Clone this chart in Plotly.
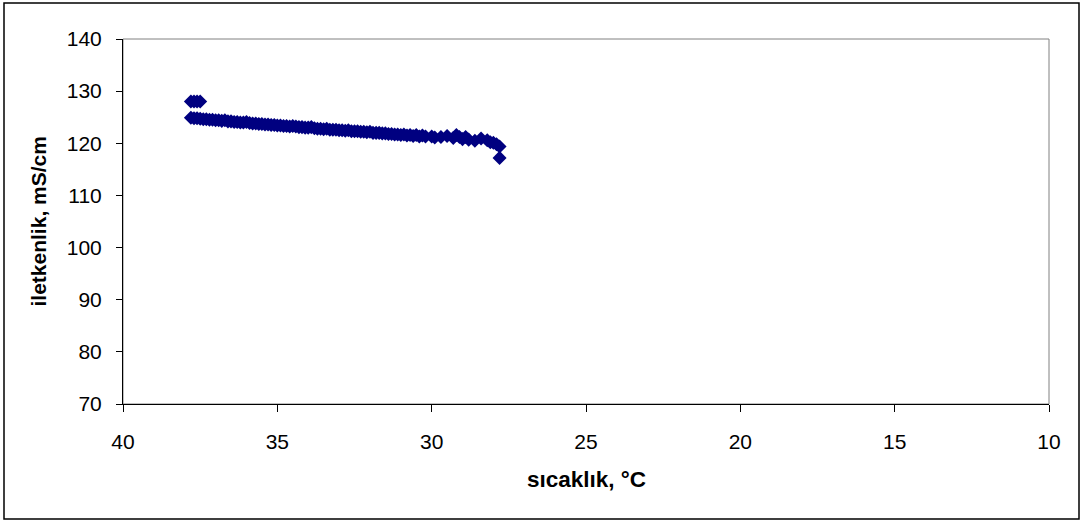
import plotly.graph_objects as go

# temperature (°C) and conductivity (mS/cm)
sicaklik = [37.8, 37.7, 37.6, 37.5, 37.4, 37.3, 37.2, 37.1, 37.0, 36.9,
            36.8, 36.7, 36.6, 36.5, 36.4, 36.3, 36.2, 36.1, 36.0, 35.9,
            35.8, 35.7, 35.6, 35.5, 35.4, 35.3, 35.2, 35.1, 35.0, 34.9,
            34.8, 34.7, 34.6, 34.5, 34.4, 34.3, 34.2, 34.1, 34.0, 33.9,
            33.8, 33.7, 33.6, 33.5, 33.4, 33.3, 33.2, 33.1, 33.0, 32.9,
            32.8, 32.7, 32.6, 32.5, 32.4, 32.3, 32.2, 32.1, 32.0, 31.9,
            31.8, 31.7, 31.6, 31.5, 31.4, 31.3, 31.2, 31.1, 31.0, 30.9,
            30.8, 30.7, 30.6, 30.5, 30.4, 30.3, 30.2, 30.0, 29.9, 29.7,
            29.5, 29.3, 29.2, 29.1, 29.0, 28.9, 28.8, 28.6, 28.4, 28.2,
            28.1, 28.0, 27.9, 27.8, 27.8,
            37.8, 37.7, 37.6, 37.5]
iletkenlik = [124.9, 124.8, 124.8, 124.7, 124.6, 124.6, 124.5, 124.5, 124.4, 124.4,
              124.3, 124.4, 124.2, 124.2, 124.1, 124.1, 124.0, 124.0, 124.1, 123.9,
              123.8, 123.8, 123.7, 123.7, 123.6, 123.6, 123.5, 123.5, 123.4, 123.4,
              123.3, 123.3, 123.2, 123.3, 123.2, 123.1, 123.1, 123.0, 123.0, 123.1,
              122.9, 122.8, 122.8, 122.7, 122.8, 122.6, 122.6, 122.6, 122.5, 122.5,
              122.4, 122.5, 122.3, 122.3, 122.3, 122.2, 122.2, 122.1, 122.2, 122.0,
              122.0, 122.0, 121.9, 121.9, 121.8, 121.8, 121.7, 121.7, 121.6, 121.7,
              121.5, 121.6, 121.4, 121.6, 121.3, 121.5, 121.3, 121.3, 121.1, 121.2,
              121.4, 121.0, 121.6, 121.2, 120.8, 121.2, 120.7, 120.5, 120.9, 120.6,
              120.2, 120.1, 119.8, 119.4, 117.2,
              128.0, 128.0, 128.0, 128.0]

x_ticks = [40, 35, 30, 25, 20, 15, 10]
y_ticks = [70, 80, 90, 100, 110, 120, 130, 140]

FONT = "Liberation Sans, Arial, sans-serif"

fig = go.Figure()
fig.add_trace(go.Scatter(
    x=sicaklik, y=iletkenlik, mode="markers",
    marker=dict(symbol="diamond", size=10.8, color="#000080",
                line=dict(width=0)),
    showlegend=False, hoverinfo="x+y"))

fig.update_layout(
    width=1083, height=523,
    margin=dict(l=123, r=34, t=39, b=119),
    paper_bgcolor="white", plot_bgcolor="white",
    font=dict(family=FONT, color="black", size=21),
    showlegend=False,
)
fig.update_xaxes(
    range=[40, 10], tickvals=x_ticks, ticktext=[str(v) for v in x_ticks],
    showgrid=False, zeroline=False, showline=True, linecolor="black",
    linewidth=1, ticks="outside", ticklen=7, tickcolor="black",
    tickfont=dict(size=21, family=FONT), ticklabelstandoff=12)
fig.update_yaxes(
    range=[70, 140], tickvals=y_ticks, ticktext=[str(v) for v in y_ticks],
    showgrid=False, zeroline=False, showline=True, linecolor="black",
    linewidth=1, ticks="outside", ticklen=6, tickcolor="black",
    tickfont=dict(size=21, family=FONT), ticklabelstandoff=10)

# plot-area frame (grey top/right)
fig.add_shape(type="rect", xref="paper", yref="paper", x0=0, x1=1, y0=0, y1=1,
              line=dict(color="#808080", width=1), layer="below")
# outer chart border
fig.add_shape(type="rect", xref="paper", yref="paper",
              x0=(4 - 123) / 926, x1=(1079 - 123) / 926,
              y0=(404 - 519) / 365, y1=(404 - 3) / 365,
              line=dict(color="black", width=1.5), layer="above")

fig.add_annotation(text="<b>sıcaklık, °C</b>", xref="paper", yref="paper",
                   x=0.5, y=(404 - 479) / 365, showarrow=False,
                   font=dict(size=22.5, family=FONT, color="black"),
                   xanchor="center", yanchor="middle")
fig.add_annotation(text="<b>iletkenlik, mS/cm</b>", xref="paper", yref="paper",
                   x=(38 - 123) / 926, y=0.5, showarrow=False, textangle=-90,
                   font=dict(size=21, family=FONT, color="black"),
                   xanchor="center", yanchor="middle")

fig.write_html("out.html")
